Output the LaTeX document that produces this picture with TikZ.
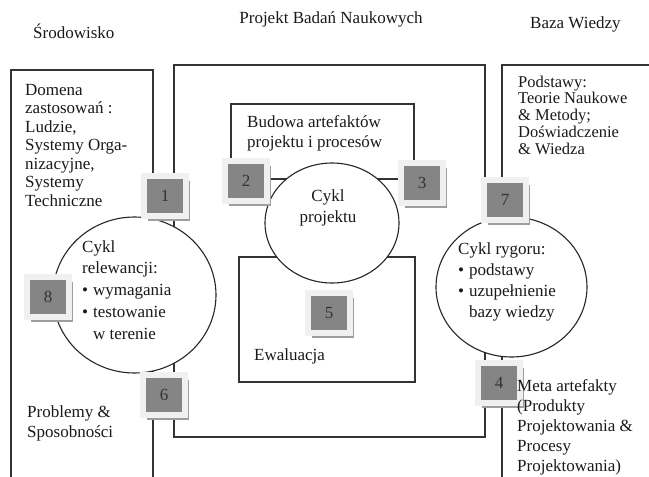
\documentclass[tikz,border=0pt]{standalone}
\usepackage{fontspec}
\setmainfont{Liberation Serif}
\usetikzlibrary{shapes.geometric,shadows}
\newcommand{\firstline}{\rule{0pt}{16pt}}

\begin{document}
\begin{tikzpicture}[x=1pt,y=-1pt,
  boxline/.style={draw=black!80,line width=1.1pt},
  cyc/.style={ellipse,draw=black!85,line width=1.1pt,fill=white,inner sep=0pt},
  numbox/.style={fill=black!48,draw=black!6,line width=6pt,minimum width=42pt,minimum height=40pt,
    inner sep=0pt,text=black!80,font=\fontsize{17}{17}\selectfont,
    drop shadow={shadow xshift=4pt,shadow yshift=-5pt,fill=black!38,opacity=1}},
  txt/.style={anchor=north west,inner sep=0pt,align=left,text=black!90,font=\fontsize{17}{18.5}\selectfont}]
\useasboundingbox (0,0) rectangle (649,477);

\draw[boxline] (11,490) -- (11,70) -- (153,70) -- (153,490);
\draw[boxline] (174,65) rectangle (485,437);
\draw[boxline] (502,490) -- (502,65) -- (660,65);
\draw[boxline] (231,104) rectangle (414,179);
\draw[boxline] (239,257) rectangle (415,382);

\node[cyc,minimum width=163pt,minimum height=156pt] (relcyc) at (134.5,295) {};
\node[cyc,minimum width=134pt,minimum height=120pt] (designcyc) at (332,223) {};
\node[cyc,minimum width=151pt,minimum height=140pt] (rigorcyc) at (511.5,287) {};

\node[numbox] (n1) at (165,196) {1};
\node[numbox] (n2) at (246,181) {2};
\node[numbox] (n3) at (422,183) {3};
\node[numbox] (n4) at (499,383) {4};
\node[numbox] (n5) at (329,313) {5};
\node[numbox] (n6) at (164,395) {6};
\node[numbox] (n7) at (505,200) {7};
\node[numbox] (n8) at (48,297) {8};

\node[txt] (env) at (33,22) {\firstline Środowisko};
\node[txt,anchor=north] (proj) at (331,7) {\firstline Projekt Badań Naukowych};
\node[txt] (kb) at (530,12) {\firstline Baza Wiedzy};

\node[txt] (domain) at (25,79) {\firstline Domena\\zastosowań :\\Ludzie,\\Systemy Orga-\\nizacyjne,\\Systemy\\Techniczne};
\node[txt,font=\fontsize{16.5}{16.7}\selectfont] (found) at (518,71) {\firstline Podstawy:\\Teorie Naukowe\\\& Metody;\\Doświadczenie\\\& Wiedza};
\node[txt,font=\fontsize{17}{20}\selectfont] (build) at (247,111) {\firstline Budowa artefaktów\\projektu i procesów};
\node[txt,anchor=north,align=center,font=\fontsize{17}{21}\selectfont] (designtxt) at (328,185) {\firstline Cykl\\projektu};
\node[txt] (eval) at (254,344) {\firstline Ewaluacja};
\node[txt,font=\fontsize{17}{21.7}\selectfont] (reltxt) at (82,236)
  {\firstline Cykl\\relewancji:\\\textbullet\hspace{5pt}wymagania\\\textbullet\hspace{5pt}testowanie\\\hphantom{\textbullet\hspace{5pt}}w terenie};
\node[txt,font=\fontsize{17}{21}\selectfont] (rigortxt) at (458,238)
  {\firstline Cykl rygoru:\\\textbullet\hspace{5pt}podstawy\\\textbullet\hspace{5pt}uzupełnienie\\\hphantom{\textbullet\hspace{5pt}}bazy wiedzy};
\node[txt,font=\fontsize{17}{20}\selectfont] (meta) at (517,375)
  {\firstline Meta artefakty\\(Produkty\\Projektowania \&\\Procesy\\Projektowania)};
\node[txt,font=\fontsize{17}{20}\selectfont] (probl) at (27,401) {\firstline Problemy \&\\Sposobności};
\end{tikzpicture}
\end{document}
